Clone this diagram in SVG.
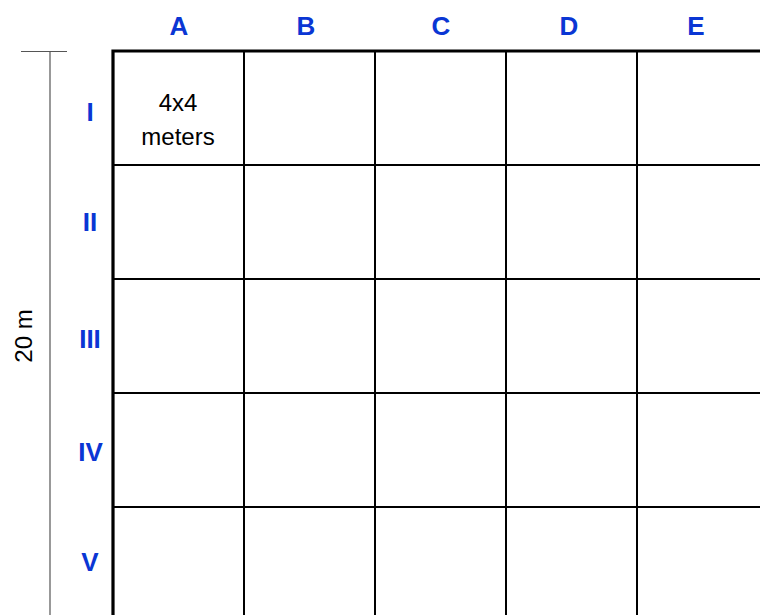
<svg xmlns="http://www.w3.org/2000/svg" width="760" height="615" viewBox="0 0 760 615">
  <style>
    .lbl { font-family: "Liberation Sans", Arial, sans-serif; font-weight: bold; font-size: 26px; fill: #0a36d4; text-anchor: middle; }
    .txt { font-family: "Liberation Sans", Arial, sans-serif; font-size: 24px; fill: #000; text-anchor: middle; }
    .grid { stroke: #000; stroke-width: 2; fill: none; }
    .border { stroke: #000; stroke-width: 3.2; fill: none; }
    .scale { stroke: #555; stroke-width: 1.2; fill: none; }
  </style>
  <rect width="760" height="615" fill="#fff"/>

  <g id="grid">
    <path class="grid" d="M244,51V615 M375,51V615 M506,51V615 M637,51V615 M113,165H760 M113,279H760 M113,393H760 M113,507H760"/>
    <path class="border" d="M113,615V51H760"/>
  </g>

  <g id="cell-A-I">
    <text class="txt" x="178" y="111">4x4</text>
    <text class="txt" x="178" y="145">meters</text>
  </g>

  <g id="column-labels">
    <text class="lbl" x="179" y="35">A</text>
    <text class="lbl" x="306" y="35">B</text>
    <text class="lbl" x="441" y="35">C</text>
    <text class="lbl" x="569" y="35">D</text>
    <text class="lbl" x="696" y="35">E</text>
  </g>

  <g id="row-labels">
    <text class="lbl" x="90" y="121">I</text>
    <text class="lbl" x="90" y="230.5">II</text>
    <text class="lbl" x="90" y="347.5">III</text>
    <text class="lbl" x="90.5" y="460.5">IV</text>
    <text class="lbl" x="90" y="570.5">V</text>
  </g>

  <g id="scale">
    <path class="scale" d="M21,51.5H67 M50,51.5V615"/>
    <text class="txt" transform="translate(31.5,336) rotate(-90)" x="0" y="0">20 m</text>
  </g>
</svg>
